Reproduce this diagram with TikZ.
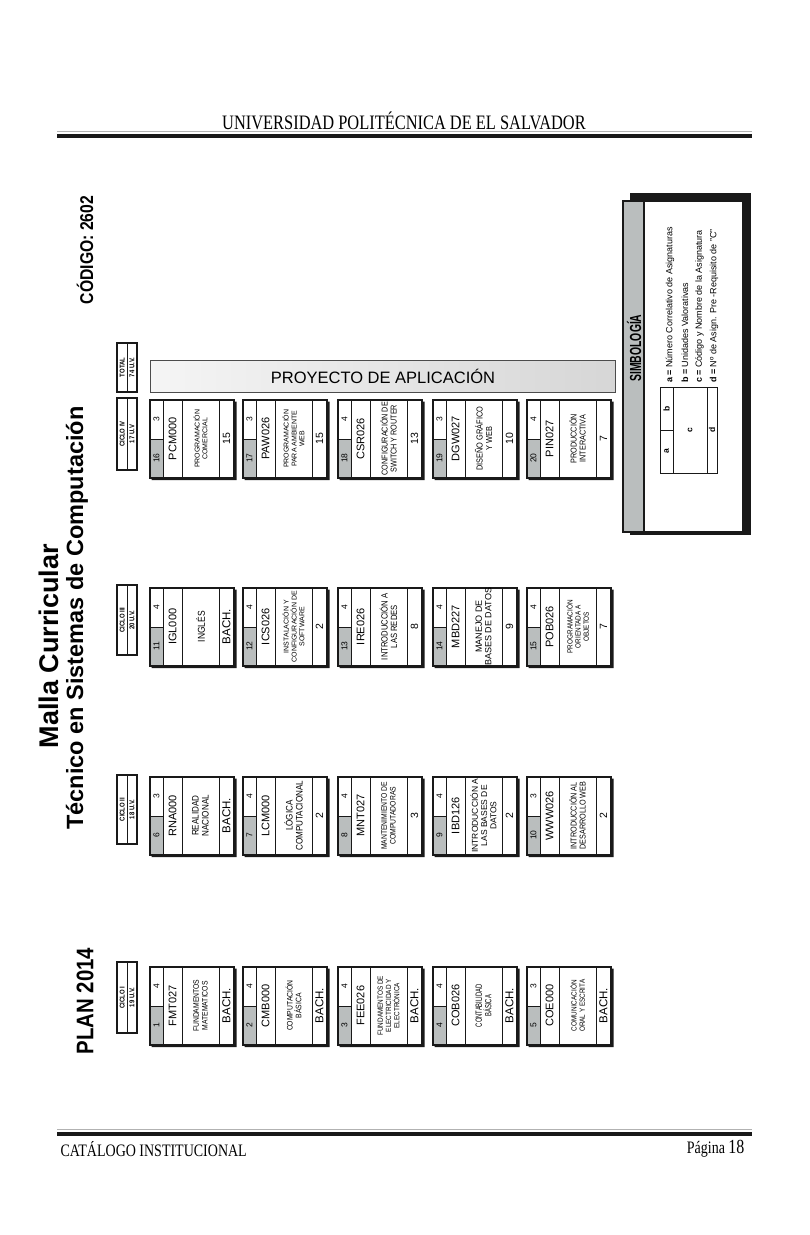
\documentclass[tikz,border=0pt]{standalone}
\usepackage{fontspec}
\setmainfont{Liberation Sans}
\newfontfamily\hdr[FakeStretch=0.8]{Liberation Serif}
\newfontfamily\nB[FakeStretch=0.85]{Liberation Sans}
\newfontfamily\nC[FakeStretch=0.65]{Liberation Sans}
\newcommand\fs[2]{\fontsize{#1}{#2}\selectfont}
\definecolor{cellgray}{RGB}{186,190,190}
\definecolor{darkln}{RGB}{25,25,25}
\tikzset{
  rot/.style={rotate=90,inner sep=0pt},
  inl/.style={line width=0.7pt,draw=darkln},
  outl/.style={line width=2pt,draw=darkln},
}
% card: x0, y0, a, b, code, namefont, name, d, dfont
\newcommand\crd[9]{%
  \fill[cellgray] (#1,#2+39) rectangle (#1+13,#2+77.5);
  \draw[inl] (#1+13,#2)--(#1+13,#2+77.5) (#1+32,#2)--(#1+32,#2+77.5)
             (#1+69,#2)--(#1+69,#2+77.5) (#1,#2+39)--(#1+13,#2+39);
  \fill[darkln] (#1+84,#2+1.5) rectangle (#1+86.5,#2+80) (#1+1.5,#2+77.5) rectangle (#1+86.5,#2+80);
  \draw[outl] (#1,#2) rectangle (#1+84,#2+77.5);
  \node[rot,font=\fs{8.5}{9}] (n#3a) at (#1+6.5,#2+58.2) {#3};
  \node[rot,font=\fs{8.5}{9}] (n#3b) at (#1+6.5,#2+19.5) {#4};
  \node[rot,font=\fs{11}{11}] (n#3c) at (#1+22.5,#2+38.7) {#5};
  \node[rot,align=center,font=#6] (n#3n) at (#1+50.5,#2+38.7) {#7};
  \node[rot,font=#9] (n#3d) at (#1+76.5,#2+38.7) {#8};
}
% cycle header: y0, y1, line1, line2, name
\newcommand\cyc[5]{%
  \draw[outl,fill=white] (117,#1) rectangle (137,#2);
  \draw[inl] (127,#1)--(127,#2);
  \node[rot,font=\bfseries\nB\fs{7}{7}] (#5a) at (122.2,{(#1+#2)/2}) {#3};
  \node[rot,font=\bfseries\nB\fs{7}{7}] (#5b) at (132,{(#1+#2)/2}) {#4};
}
\begin{document}
\begin{tikzpicture}[x=1pt,y=-1pt]
\useasboundingbox (0,0) rectangle (810,1235);
\fill[white] (0,0) rectangle (810,1235);

% header
\node[font=\hdr\fs{20.5}{21}] (hdr) at (404,121) {UNIVERSIDAD POLITÉCNICA DE EL SALVADOR};
\draw[gray!60,line width=1pt] (57,131.5)--(752,131.5);
\draw[darkln,line width=3.5pt] (57,136)--(752,136);

% footer
\draw[gray!60,line width=1pt] (57,1129.5)--(752,1129.5);
\draw[darkln,line width=3.5pt] (57,1134)--(752,1134);
\node[anchor=west,font=\hdr\fs{17.5}{18}] (ft) at (57,1149) {CATÁLOGO INSTITUCIONAL};
\node[anchor=east,font=\hdr\fs{17.5}{18}] (pg) at (748,1149) {Página {\fs{20}{20}18}};

% titles
\node[rot,font=\bfseries\fs{27}{27}] (t1) at (49,646) {Malla Curricular};
\node[rot,font=\bfseries\fs{23.5}{24}] (t2) at (77,618) {Técnico en Sistemas de Computación};
\node[rot,font=\bfseries\nB\fs{24}{24}] (plan) at (85,1001) {PLAN 2014};
\node[rot,font=\bfseries\nB\fs{18.5}{19}] (cod) at (85,250) {CÓDIGO: 2602};

% cycle headers
\cyc{962}{1033}{CICLO I}{19 U.V.}{h1}
\cyc{775}{844}{CICLO II}{18 U.V.}{h2}
\cyc{585}{655}{CICLO III}{20 U.V.}{h3}
\cyc{398}{470}{CICLO IV}{17 U.V}{h4}
\cyc{343}{392}{TOTAL}{74 U.V.}{h5}

% ciclo I
\crd{150}{967}{1}{4}{FMT027}{\nB\fs{8}{8.8}}{FUNDAMENTOS\\MATEMATICOS}{BACH.}{\fs{11.5}{12}}
\crd{243}{967}{2}{4}{CMB000}{\nB\fs{8}{8.8}}{COMPUTACIÓN\\BÁSICA}{BACH.}{\fs{11.5}{12}}
\crd{338}{967}{3}{4}{FEE026}{\nB\fs{7.5}{8.2}}{FUNDAMENTOS DE\\ELECTRICIDAD Y\\ELECTRÓNICA}{BACH.}{\fs{11.5}{12}}
\crd{433}{967}{4}{4}{COB026}{\nC\fs{9}{9.6}}{CONTABILIDAD\\BÁSICA}{BACH.}{\fs{11.5}{12}}
\crd{527}{967}{5}{3}{COE000}{\nB\fs{7.5}{8.2}}{COMUNICACIÓN\\ORAL Y ESCRITA}{BACH.}{\fs{11.5}{12}}
% ciclo II
\crd{150}{777}{6}{3}{RNA000}{\nB\fs{9.5}{10}}{REALIDAD\\NACIONAL}{BACH.}{\fs{11.5}{12}}
\crd{243}{777}{7}{4}{LCM000}{\nB\fs{9.5}{10}}{LÓGICA\\COMPUTACIONAL}{2}{\fs{10.5}{11}}
\crd{338}{777}{8}{4}{MNT027}{\nB\fs{8}{8.8}}{MANTENIMIENTO DE\\COMPUTADORAS}{3}{\fs{10.5}{11}}
\crd{433}{777}{9}{4}{IBD126}{\fs{8.5}{9.2}}{INTRODUCCIÓN A\\LAS BASES DE\\DATOS}{2}{\fs{10.5}{11}}
\crd{527}{777}{10}{3}{WWW026}{\nB\fs{8.5}{9.2}}{INTRODUCCIÓN AL\\DESARROLLO WEB}{2}{\fs{10.5}{11}}
% ciclo III
\crd{150}{588}{11}{4}{IGL000}{\nB\fs{10}{10}}{INGLÉS}{BACH.}{\fs{11.5}{12}}
\crd{243}{588}{12}{4}{ICS026}{\fs{7}{7.8}}{INSTALACIÓN Y\\CONFIGURACIÓN DE\\SOFTWARE}{2}{\fs{10.5}{11}}
\crd{338}{588}{13}{4}{IRE026}{\nB\fs{9}{9.6}}{INTRODUCCIÓN A\\LAS REDES}{8}{\fs{10.5}{11}}
\crd{433}{588}{14}{4}{MBD227}{\fs{9}{9.6}}{MANEJO DE\\BASES DE DATOS}{9}{\fs{10.5}{11}}
\crd{527}{588}{15}{4}{POB026}{\nB\fs{7.5}{8.2}}{PROGRAMACIÓN\\ORIENTADA A\\OBJETOS}{7}{\fs{10.5}{11}}
% ciclo IV
\crd{150}{400}{16}{3}{PCM000}{\fs{7}{7.8}}{PROGRAMACIÓN\\COMERCIAL}{15}{\fs{10.5}{11}}
\crd{243}{400}{17}{3}{PAW026}{\fs{7}{7.8}}{PROGRAMACIÓN\\PARA AMBIENTE\\WEB}{15}{\fs{10.5}{11}}
\crd{338}{400}{18}{4}{CSR026}{\nB\fs{8.5}{9.2}}{CONFIGURACIÓN DE\\SWITCH Y ROUTER}{13}{\fs{10.5}{11}}
\crd{433}{400}{19}{3}{DGW027}{\nB\fs{8.7}{9.4}}{DISEÑO GRÁFICO\\Y WEB}{10}{\fs{10.5}{11}}
\crd{527}{400}{20}{4}{PIN027}{\nB\fs{8.5}{9.2}}{PRODUCCIÓN\\INTERACTIVA}{7}{\fs{10.5}{11}}

% proyecto bar
\shade[left color=gray!8,right color=gray!32,draw=gray!60!black,line width=0.8pt] (150,360) rectangle (615,392);
\node[font=\fs{16.5}{17}] (proy) at (383,376) {PROYECTO DE APLICACIÓN};

% simbologia
\fill[darkln] (630,193) rectangle (751,535);
\fill[white] (623,201) rectangle (743,532);
\fill[cellgray] (623,201) rectangle (644,532);
\draw[line width=2pt,darkln] (623,201) rectangle (743,532);
\draw[line width=2pt,darkln] (644,201)--(644,532);
\node[rot,font=\bfseries\nC\fs{16}{16}] (simb) at (634,348) {SIMBOLOGÍA};
\draw[line width=0.8pt,darkln] (660,387) rectangle (717,473);
\draw[line width=0.8pt,darkln] (673,387)--(673,473) (707,387)--(707,473) (660,430)--(673,430);
\node[rot,font=\bfseries\fs{8.5}{9}] (sa) at (666.5,451.5) {a};
\node[rot,font=\bfseries\fs{8.5}{9}] (sb) at (666.5,408.5) {b};
\node[rot,font=\bfseries\fs{8.5}{9}] (sc) at (690,430) {c};
\node[rot,font=\bfseries\fs{8.5}{9}] (sd) at (712,430) {d};
\node[rot,anchor=west,font=\fs{9}{9}] (la) at (670,383) {\textbf{a =} Número Correlativo de Asignaturas};
\node[rot,anchor=west,font=\fs{9}{9}] (lb) at (685,383) {\textbf{b =} Unidades Valorativas};
\node[rot,anchor=west,font=\fs{9}{9}] (lc) at (699.5,383) {\textbf{c =} Código y Nombre de la Asignatura};
\node[rot,anchor=west,font=\fs{9}{9}] (ld) at (714,383) {\textbf{d =} Nº de Asign. Pre -Requisito de "C"};
\end{tikzpicture}
\end{document}
